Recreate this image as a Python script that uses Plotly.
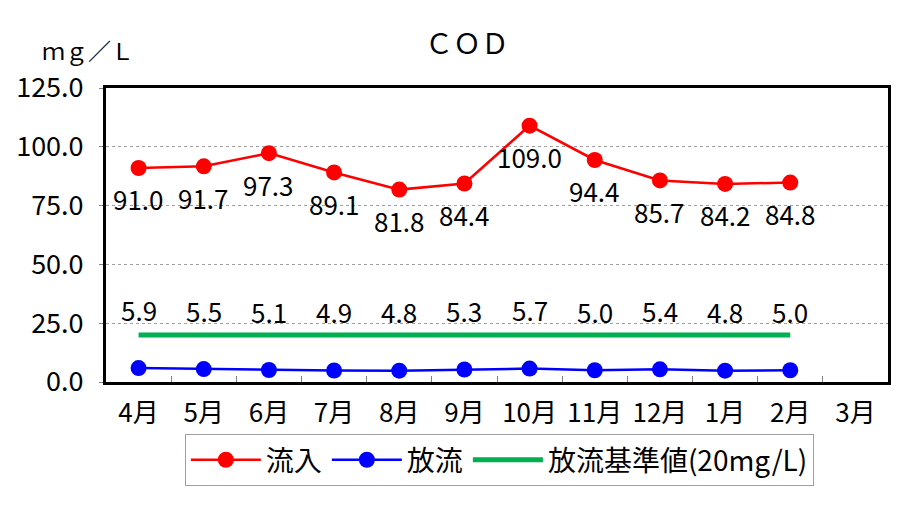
import plotly.graph_objects as go

# データ
months = ['4月', '5月', '6月', '7月', '8月', '9月', '10月', '11月', '12月', '1月', '2月', '3月']
inflow = [91.0, 91.7, 97.3, 89.1, 81.8, 84.4, 109.0, 94.4, 85.7, 84.2, 84.8, None]
outflow = [5.9, 5.5, 5.1, 4.9, 4.8, 5.3, 5.7, 5.0, 5.4, 4.8, 5.0, None]
standard = [20, 20, 20, 20, 20, 20, 20, 20, 20, 20, 20, None]
y_ticks = [0, 25, 50, 75, 100, 125]

FONT = 'Noto Sans CJK JP, sans-serif'

fig = go.Figure()

fig.add_trace(go.Scatter(
    x=months, y=inflow, name='流入', mode='lines+markers',
    line=dict(color='#FF0000', width=2.5),
    marker=dict(color='#FF0000', size=16),
))
fig.add_trace(go.Scatter(
    x=months, y=outflow, name='放流', mode='lines+markers',
    line=dict(color='#0000FF', width=2.5),
    marker=dict(color='#0000FF', size=16),
))
fig.add_trace(go.Scatter(
    x=months, y=standard, name='放流基準値(20mg/L)', mode='lines',
    line=dict(color='#00B050', width=5),
))

# データラベル
annotations = []
for m, v in zip(months, inflow):
    if v is None:
        continue
    annotations.append(dict(x=m, y=v, text=f'{v:.1f}', showarrow=False,
                            yshift=-31, font=dict(size=26, color='black', family=FONT)))
for m, v in zip(months, outflow):
    if v is None:
        continue
    annotations.append(dict(x=m, y=v, text=f'{v:.1f}', showarrow=False,
                            yshift=59, font=dict(size=26, color='black', family=FONT)))

annotations.append(dict(xref='paper', yref='paper', x=-0.085, y=1.13, xanchor='left',
                        yanchor='middle', text='ｍｇ／Ｌ', showarrow=False,
                        font=dict(size=23, color='black', family=FONT)))
annotations.append(dict(xref='paper', yref='paper', x=0.462, y=1.158, xanchor='center',
                        yanchor='middle', text='ＣＯＤ', showarrow=False,
                        font=dict(size=28, color='black', family=FONT)))

# ページ本体の余白(8px)を見込んだサイズ
fig.update_layout(
    width=897, height=507,
    margin=dict(l=98, r=17, t=80, b=133),
    plot_bgcolor='white', paper_bgcolor='white',
    showlegend=True,
    legend=dict(
        orientation='h', x=0.503, xanchor='center', y=-0.177, yanchor='top',
        bordercolor='#A0A0A0', borderwidth=1,
        font=dict(size=28, color='black', family=FONT),
        itemwidth=70,
    ),
    annotations=annotations,
    font=dict(family=FONT, color='black'),
)

fig.update_xaxes(
    type='category', range=[-0.5, 11.5], automargin=False,
    showline=True, linecolor='black', linewidth=3, mirror=True,
    ticks='inside', tickson='boundaries', ticklen=6, tickcolor='#808080',
    ticklabelstandoff=6,
    tickfont=dict(size=26, family=FONT, color='black'),
    showgrid=False,
)
fig.update_yaxes(
    range=[0, 125], tickvals=y_ticks, ticktext=[f'{t:.1f}' for t in y_ticks],
    automargin=False,
    showline=True, linecolor='black', linewidth=3, mirror=True,
    ticks='outside', ticklen=4, tickcolor='#808080',
    ticklabelstandoff=10,
    tickfont=dict(size=27, family=FONT, color='black'),
    showgrid=True, gridcolor='#A0A0A0', griddash='dot', gridwidth=1,
    zeroline=False,
)

fig.write_html('out.html')
